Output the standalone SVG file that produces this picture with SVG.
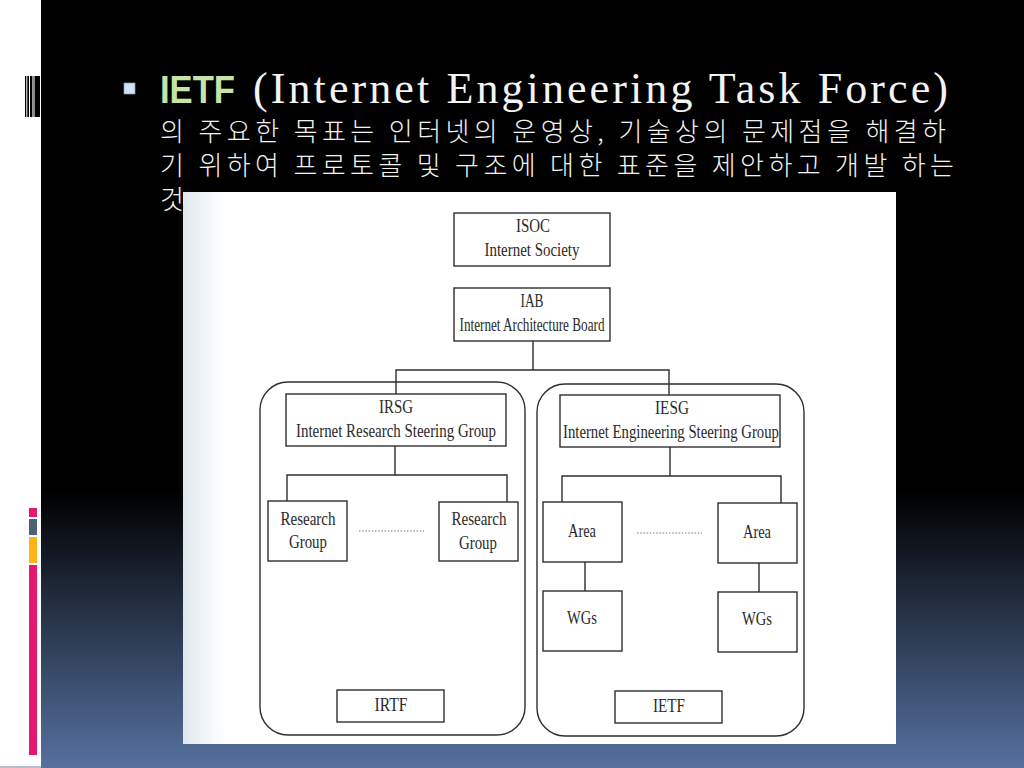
<svg xmlns="http://www.w3.org/2000/svg" width="1024" height="768" viewBox="0 0 1024 768">
<style>
.b{fill:none;stroke:#2e2e2e;stroke-width:1.4}
.l{font-family:"Liberation Serif",serif;font-size:19px;fill:#2a2a2a;text-anchor:middle}
.k{font-family:"Noto Sans CJK KR",sans-serif;font-weight:300;font-size:26px;fill:#f2f2f2}
.d{stroke:#777;stroke-width:1;stroke-dasharray:1.5 1.7;fill:none}
</style>
<defs>
<linearGradient id="bg" x1="0" y1="0" x2="0" y2="1"><stop offset="0" stop-color="#000"/><stop offset=".64" stop-color="#000"/><stop offset="1" stop-color="#56719f"/></linearGradient>
<linearGradient id="edge" x1="0" y1="0" x2="1" y2="0"><stop offset="0" stop-color="#dfe7ee"/><stop offset=".025" stop-color="#eef3f7"/><stop offset=".06" stop-color="#fff"/></linearGradient>
</defs>
<rect width="1024" height="768" fill="#fff"/>
<rect x="41" y="0" width="983" height="768" fill="url(#bg)"/>
<rect x="0" y="766" width="41" height="2" fill="#b8bcd0"/>
<g id="decor">
<path d="M25 76h1.300v41H25zM27.300 76h1.700v41h-1.700zM30 76h2.300v41H30zM35 76h5v41h-5z" fill="#000"/>
<path d="M32.300 76h2.700v41h-2.700z" fill="#888"/>
<rect x="29" y="508" width="8" height="9" fill="#e6176f"/>
<rect x="29" y="519" width="8" height="16" fill="#4e6077"/>
<rect x="29" y="537" width="8" height="26" fill="#fdb515"/>
<rect x="29" y="565" width="8" height="190" fill="#e6176f"/>
</g>
<rect x="124" y="83" width="11" height="11" fill="#cfe3f7" stroke="#8d9bab" stroke-width=".7"/>
<text x="160" y="103" font-family="'Liberation Sans',sans-serif" font-weight="700" font-size="38" fill="#c8e3a6" textLength="75" lengthAdjust="spacingAndGlyphs">IETF</text>
<text x="253" y="103" font-family="'Liberation Serif',serif" font-size="44" fill="#f4f4f4" textLength="695" lengthAdjust="spacing">(Internet Engineering Task Force)</text>
<text class="k" x="160" y="141" textLength="786" lengthAdjust="spacing">의 주요한 목표는 인터넷의 운영상, 기술상의 문제점을 해결하</text>
<text class="k" x="160" y="175" textLength="794" lengthAdjust="spacing">기 위하여 프로토콜 및 구조에 대한 표준을 제안하고 개발 하는</text>
<text class="k" x="160" y="209">것</text>
<rect x="183" y="192" width="713" height="552" fill="url(#edge)"/>
<g id="connectors" class="b">
<path d="M533 341V370M396 394V370H669V395"/>
<path d="M395 446V475M287 501V475H507V502"/>
<path d="M670 447V476M562 502V476H781V503"/>
<path d="M585 562V591M759 563V592"/>
</g>
<g id="isoc"><rect class="b" x="454" y="213" width="156" height="53"/><text class="l" x="533" y="232" textLength="34" lengthAdjust="spacingAndGlyphs">ISOC</text><text class="l" x="532" y="256" textLength="95" lengthAdjust="spacingAndGlyphs">Internet Society</text></g>
<g id="iab"><rect class="b" x="454" y="288" width="156" height="53"/><text class="l" x="532" y="307" font-size="16" textLength="23" lengthAdjust="spacingAndGlyphs">IAB</text><text class="l" x="532" y="331" font-size="17" textLength="145" lengthAdjust="spacingAndGlyphs">Internet Architecture Board</text></g>
<g id="irtf-group"><rect class="b" x="260" y="382" width="265" height="353" rx="28"/></g>
<g id="ietf-group"><rect class="b" x="537" y="384" width="267" height="352" rx="28"/></g>
<g id="irsg"><rect class="b" x="286" y="394" width="220" height="52"/><text class="l" x="396" y="413" textLength="34" lengthAdjust="spacingAndGlyphs">IRSG</text><text class="l" x="396" y="437" textLength="200" lengthAdjust="spacingAndGlyphs">Internet Research Steering Group</text></g>
<g id="iesg"><rect class="b" x="560" y="395" width="220" height="52"/><text class="l" x="672" y="414" textLength="34" lengthAdjust="spacingAndGlyphs">IESG</text><text class="l" x="671" y="438" textLength="216" lengthAdjust="spacingAndGlyphs">Internet Engineering Steering Group</text></g>
<g id="rg1"><rect class="b" x="268" y="501" width="79" height="60"/><text class="l" x="308" y="525" textLength="55" lengthAdjust="spacingAndGlyphs">Research</text><text class="l" x="308" y="548" textLength="38" lengthAdjust="spacingAndGlyphs">Group</text></g>
<g id="rg2"><rect class="b" x="439" y="502" width="79" height="59"/><text class="l" x="479" y="525" textLength="55" lengthAdjust="spacingAndGlyphs">Research</text><text class="l" x="478" y="549" textLength="38" lengthAdjust="spacingAndGlyphs">Group</text></g>
<path class="d" d="M359 531H424M637 533H702"/>
<g id="area1"><rect class="b" x="543" y="502" width="79" height="60"/><text class="l" x="582" y="537" textLength="28" lengthAdjust="spacingAndGlyphs">Area</text></g>
<g id="area2"><rect class="b" x="718" y="503" width="79" height="60"/><text class="l" x="757" y="538" textLength="28" lengthAdjust="spacingAndGlyphs">Area</text></g>
<g id="wg1"><rect class="b" x="543" y="591" width="79" height="60"/><text class="l" x="582" y="624" textLength="30" lengthAdjust="spacingAndGlyphs">WGs</text></g>
<g id="wg2"><rect class="b" x="718" y="592" width="79" height="60"/><text class="l" x="757" y="625" textLength="30" lengthAdjust="spacingAndGlyphs">WGs</text></g>
<g id="irtf"><rect class="b" x="337" y="690" width="107" height="32"/><text class="l" x="391" y="711" textLength="33" lengthAdjust="spacingAndGlyphs">IRTF</text></g>
<g id="ietf"><rect class="b" x="615" y="691" width="107" height="32"/><text class="l" x="669" y="712" textLength="32" lengthAdjust="spacingAndGlyphs">IETF</text></g>
</svg>
